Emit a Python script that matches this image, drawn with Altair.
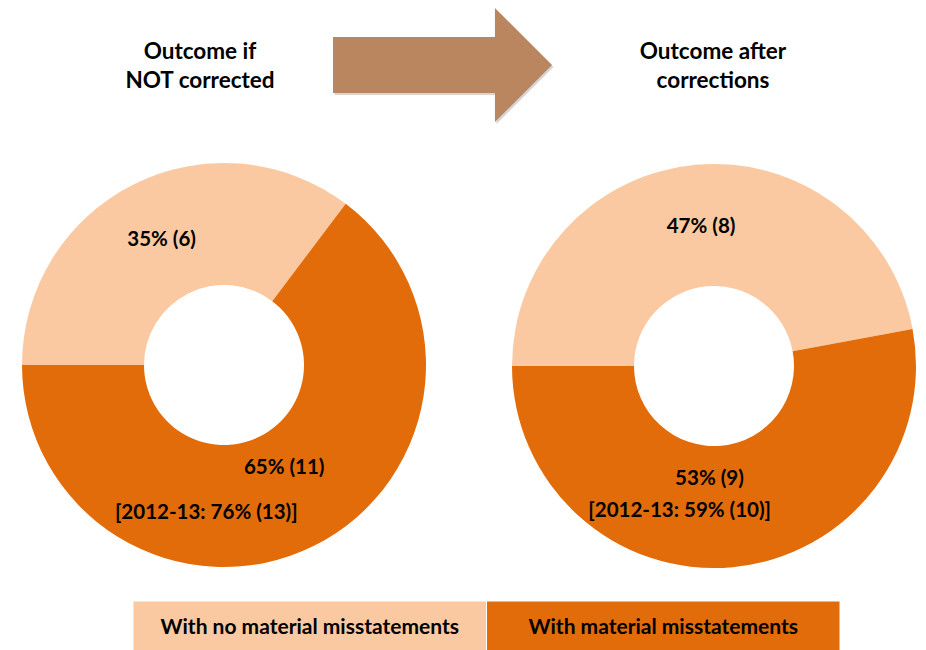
import math
import altair as alt
import pandas as pd

# ---- data ----
categories = ["With no material misstatements", "With material misstatements"]
counts_not_corrected = [6, 11]
counts_after = [8, 9]
pct_not_corrected = ["35% (6)", "65% (11)"]
pct_after = ["47% (8)", "53% (9)"]
prior_not_corrected = ["", "[2012-13: 76% (13)]"]
prior_after = ["", "[2012-13: 59% (10)]"]
title_left = ["Outcome if", "NOT corrected"]
title_right = ["Outcome after", "corrections"]

LIGHT = "#FAC9A1"
DARK = "#E36C0A"
ARROW = "#B9865F"
FONT = "Lato"

color_scale = alt.Scale(domain=categories, range=[LIGHT, DARK])
theta_scale = alt.Scale(range=[1.5 * math.pi, 3.5 * math.pi])


def donut(counts, pct, prior, cx, cy, lab_dx, lab_dy, prior_dx, prior_dy):
    df = pd.DataFrame({
        "category": categories,
        "count": counts,
        "idx": list(range(len(categories))),
        "pct": pct,
        "prior": prior,
    })
    base = alt.Chart(df).encode(
        theta=alt.Theta("count:Q", stack=True, scale=theta_scale),
        order=alt.Order("idx:Q"),
        x=alt.value(cx),
        y=alt.value(cy),
    )
    arc = base.mark_arc(radius=202, innerRadius=80).encode(
        color=alt.Color("category:N", scale=color_scale, legend=None)
    )
    txt = dict(font=FONT, fontSize=20.5, fontWeight="bold", color="black")
    lab_light = base.transform_calculate(
        lbl="datum.idx == 0 ? datum.pct : ''"
    ).mark_text(radius=140, **txt).encode(text="lbl:N")
    lab_dark = base.transform_calculate(
        lbl="datum.idx == 1 ? datum.pct : ''"
    ).mark_text(radius=120, dx=lab_dx, dy=lab_dy, **txt).encode(text="lbl:N")
    lab_prior = base.mark_text(radius=120, dx=prior_dx, dy=prior_dy, **txt).encode(
        text="prior:N"
    )
    return [arc, lab_light, lab_dark, lab_prior]


left = donut(counts_not_corrected, pct_not_corrected, prior_not_corrected,
             224, 365, 6.7, -4.1, -71.2, 40.3)
right = donut(counts_after, pct_after, prior_after,
              714, 366, -15.6, -6.2, -45.4, 25.2)


def title(lines, cx):
    return alt.Chart(pd.DataFrame({"t": ["\n".join(lines)]})).mark_text(
        font=FONT, fontSize=22.5, fontWeight="bold", color="black",
        lineBreak="\n", lineHeight=28.5, align="center", baseline="middle",
    ).encode(text="t:N", x=alt.value(cx), y=alt.value(52))


arrow_path = ("M-1,-0.256L0.479,-0.256L0.479,-0.52L1,0L0.479,0.52"
              "L0.479,0.256L-1,0.256Z")
arrow_df = pd.DataFrame({"a": [0]})
arrow_shadow = alt.Chart(arrow_df).mark_point(
    shape=arrow_path, size=219 ** 2, filled=True, color="#888888",
    opacity=0.35, strokeWidth=0,
).encode(x=alt.value(444), y=alt.value(67))
arrow = alt.Chart(arrow_df).mark_point(
    shape=arrow_path, size=219 ** 2, filled=True, color=ARROW,
    opacity=1, strokeWidth=0,
).encode(x=alt.value(442.5), y=alt.value(65))

leg_df = pd.DataFrame({"category": categories})
leg_scale = alt.Scale(type="band", range=[133, 840], paddingInner=0, paddingOuter=0)
legend_rect = alt.Chart(leg_df).mark_rect(stroke="white", strokeWidth=1).encode(
    x=alt.X("category:N", sort=categories, axis=None, scale=leg_scale),
    y=alt.value(601), y2=alt.value(652),
    color=alt.Color("category:N", scale=color_scale, legend=None),
)
legend_text = alt.Chart(leg_df).mark_text(
    font=FONT, fontSize=21, fontWeight="bold", color="black", baseline="middle"
).encode(
    x=alt.X("category:N", sort=categories, axis=None, bandPosition=0.5,
            scale=leg_scale),
    y=alt.value(628), text="category:N",
)

chart = alt.layer(
    *left, *right,
    title(title_left, 200), title(title_right, 713),
    arrow_shadow, arrow,
    legend_rect, legend_text,
).properties(
    width=926, height=650, padding=0, autosize="none", background="white"
).configure_view(stroke=None)

chart.save("out.html", embed_options={"renderer": "svg", "actions": False})
